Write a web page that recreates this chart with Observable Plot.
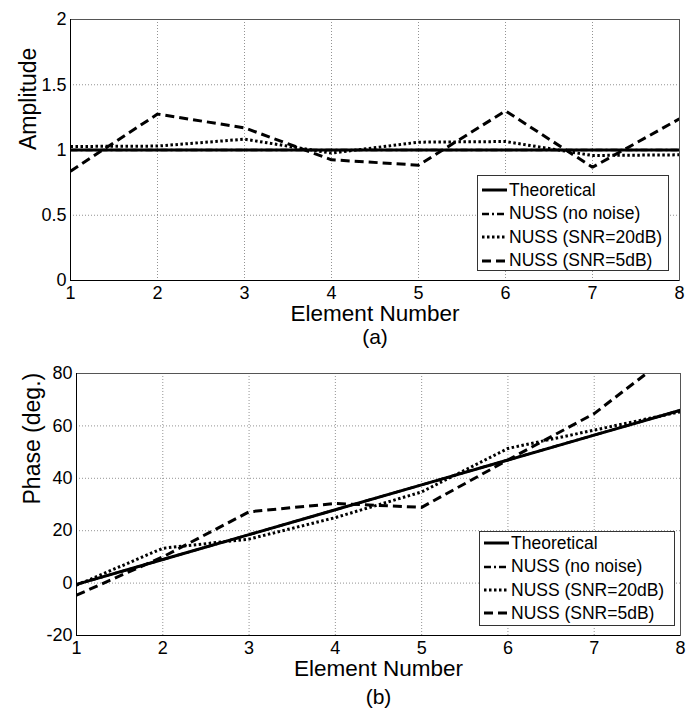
<!DOCTYPE html>
<html>
<head>
<meta charset="utf-8">
<script src="https://cdn.jsdelivr.net/npm/d3@7"></script>
<script src="https://cdn.jsdelivr.net/npm/@observablehq/plot@0.6"></script>
<style>
  body { margin: 0; background: #fff; }
  #wrap { position: relative; width: 694px; height: 709px; font-family: "Liberation Sans", Arial, Helvetica, sans-serif; }
  #wrap svg.plot { position: absolute; left: 0; }
  .legend { position: absolute; background: #fff; border: 1px solid #333; box-sizing: border-box; }
  .legend .row { position: absolute; left: 4px; height: 20px; display: flex; align-items: center; font-size: 17.5px; color: #000; white-space: nowrap; }
  .legend .row svg { margin-right: 2px; }
</style>
</head>
<body>
<div id="wrap"></div>
<script>
// ---- data ----
const elements = [1, 2, 3, 4, 5, 6, 7, 8];
const seriesNames = ["Theoretical", "NUSS (no noise)", "NUSS (SNR=20dB)", "NUSS (SNR=5dB)"];

const ampTheoretical = [1, 1, 1, 1, 1, 1, 1, 1];
const ampNoNoise     = [1, 1, 1, 1, 1, 1, 1, 1];
const amp20dB        = [1.027, 1.03, 1.083, 0.976, 1.06, 1.065, 0.958, 0.963];
const amp5dB         = [0.838, 1.275, 1.17, 0.925, 0.884, 1.30, 0.868, 1.239];

const phaseTheoretical = [-0.5, 9, 18.5, 28, 37.5, 47, 56.5, 66];
const phaseNoNoise     = [-0.5, 9, 18.5, 28, 37.5, 47, 56.5, 66];
const phase20dB        = [-0.8, 13.3, 16.8, 25, 34.8, 51.4, 58.4, 65.4];
const phase5dB         = [-4.6, 10, 27.2, 30.4, 28.9, 47, 64.7, 90];

const ampTicks = [0, 0.5, 1, 1.5, 2];
const phaseTicks = [-20, 0, 20, 40, 60, 80];

// ---- styles ----
const styles = [
  {strokeWidth: 3, strokeDasharray: null},
  {strokeWidth: 2.5, strokeDasharray: "7,3,2,3"},
  {strokeWidth: 3, strokeDasharray: "2.5,2.5"},
  {strokeWidth: 3, strokeDasharray: "9,5"}
];

function toRows(arr) { return elements.map((e, i) => ({x: e, y: arr[i]})); }

function panel(opts) {
  const {series, yDomain, yTicks, ylabel, ylabelDx, sub, height, marginTop, marginBottom, marginLeft, marginRight, xlabelDy, subDy} = opts;
  const lines = series.map((s, k) => Plot.line(toRows(s), {
    x: "x", y: "y", stroke: "#000", strokeWidth: styles[k].strokeWidth,
    strokeDasharray: styles[k].strokeDasharray, clip: true,
    strokeLinejoin: "miter", strokeLinecap: "butt"
  }));
  return Plot.plot({
    width: 694, height, marginTop, marginBottom, marginLeft, marginRight,
    style: {fontFamily: '"Liberation Sans", Arial, Helvetica, sans-serif', background: "transparent", overflow: "visible"},
    x: {domain: [1, 8]},
    y: {domain: yDomain},
    marks: [
      Plot.ruleX(elements, {stroke: "#777", strokeWidth: 0.8, strokeDasharray: "1,2"}),
      Plot.ruleY(yTicks, {stroke: "#777", strokeWidth: 0.8, strokeDasharray: "1,2"}),
      ...lines,
      Plot.frame({stroke: "#555", strokeWidth: 1}),
      Plot.ruleX([1], {stroke: "#000", strokeWidth: 1}),
      Plot.ruleY([yDomain[0]], {stroke: "#000", strokeWidth: 1}),
      Plot.axisX(elements, {tickSize: 0, tickPadding: 6, fontSize: 18, label: null, tickFormat: d => String(d), fill: "#000"}),
      Plot.axisY(yTicks, {tickSize: 0, tickPadding: 4, fontSize: 18, label: null, tickFormat: d => String(d), fill: "#000"}),
      Plot.text(["Element Number"], {frameAnchor: "bottom", dy: xlabelDy, fontSize: 22.5, fill: "#000"}),
      Plot.text([sub], {frameAnchor: "bottom", dy: subDy, fontSize: 21, fill: "#000"}),
      Plot.text([ylabel], {frameAnchor: "left", dx: ylabelDx, rotate: -90, fontSize: 23, fill: "#000"})
    ]
  });
}

const wrap = document.getElementById("wrap");

const topPanel = panel({
  series: [ampTheoretical, ampNoNoise, amp20dB, amp5dB],
  yDomain: [0, 2], yTicks: ampTicks, ylabel: "Amplitude", ylabelDx: -42, sub: "(a)",
  height: 340, marginTop: 19, marginBottom: 60, marginLeft: 70, marginRight: 15,
  xlabelDy: 40, subDy: 63
});
topPanel.classList.add("plot");
topPanel.style.top = "0px";
wrap.appendChild(topPanel);

const bottomPanel = panel({
  series: [phaseTheoretical, phaseNoNoise, phase20dB, phase5dB],
  yDomain: [-20, 80], yTicks: phaseTicks, ylabel: "Phase (deg.)", ylabelDx: -44, sub: "(b)",
  height: 369, marginTop: 33, marginBottom: 74, marginLeft: 76, marginRight: 14,
  xlabelDy: 40, subDy: 68
});
bottomPanel.classList.add("plot");
bottomPanel.style.top = "340px";
wrap.appendChild(bottomPanel);

function legend(left, topPx, width, height, rowYs) {
  const box = document.createElement("div");
  box.className = "legend";
  Object.assign(box.style, {left: left + "px", top: topPx + "px", width: width + "px", height: height + "px"});
  seriesNames.forEach((name, k) => {
    const row = document.createElement("div");
    row.className = "row";
    row.style.top = (rowYs[k] - 10) + "px";
    const st = styles[k];
    row.innerHTML = `<svg width="25" height="10"><line x1="0" y1="5" x2="25" y2="5" stroke="#000" stroke-width="${st.strokeWidth}" ${st.strokeDasharray ? `stroke-dasharray="${st.strokeDasharray}"` : ""}/></svg><span>${name}</span>`;
    box.appendChild(row);
  });
  wrap.appendChild(box);
}
legend(477, 175, 192, 96, [14, 37.5, 61, 84.5]);
legend(479, 531, 196, 95, [11, 34.5, 58, 81]);
</script>
</body>
</html>
